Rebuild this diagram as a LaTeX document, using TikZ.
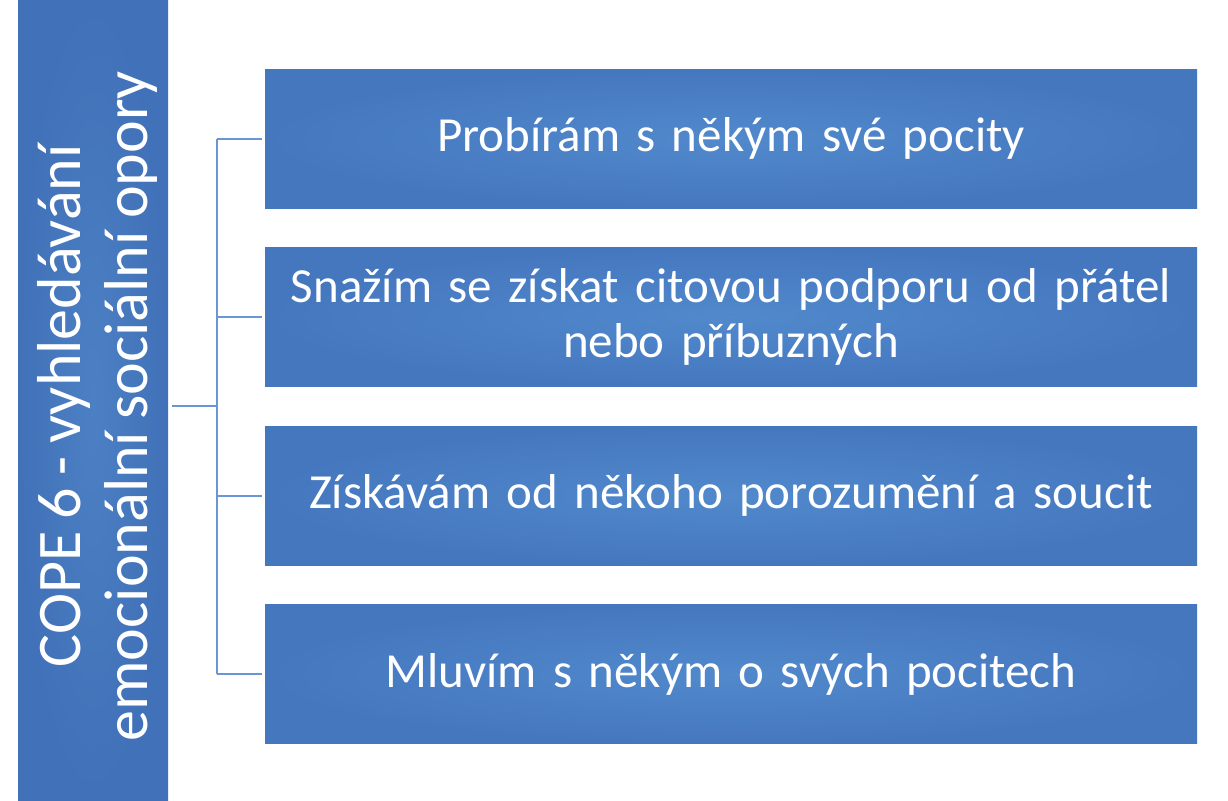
\documentclass[tikz,border=0pt]{standalone}
\usepackage{fontspec}
\setmainfont{Carlito}[WordSpace=0.9]
\definecolor{boxin}{HTML}{5189CC}
\definecolor{boxout}{HTML}{4577BF}
\definecolor{barin}{HTML}{4C80C4}
\definecolor{barout}{HTML}{4171B8}
\definecolor{linkblue}{HTML}{6B96D6}
\begin{document}
\begin{tikzpicture}[x=1pt,y=-1pt,
  itembox/.style={shade, shading=radial, inner color=boxin, outer color=boxout,
    minimum width=932pt, minimum height=139pt, inner sep=0pt, outer sep=0pt,
    text width=920pt, align=center, text=white,
    font=\fontsize{49}{55}\selectfont},
  barbox/.style={shade, shading=radial, inner color=barin, outer color=barout,
    minimum width=150pt, minimum height=800pt, inner sep=0pt, outer sep=0pt},
  bartext/.style={rotate=90, text=white, align=center, inner sep=0pt,
    font=\fontsize{62}{67}\selectfont},
  link/.style={draw=linkblue, line width=2pt}]
\useasboundingbox (0,0) rectangle (1228,800);
\node[barbox] (bar) at (93,400) {};
\node[bartext] (bartxt) at (97,406) {COPE 6 - vyhledávání\hspace{26pt}\\emocionální sociální opory};
\node[itembox] (b1) at (731,138.5) {Probírám s někým své pocity};
\node[itembox] (b2) at (731,317) {Snažím se získat citovou podporu od přátel\\nebo příbuzných};
\node[itembox] (b3) at (731,495.5) {Získávám od někoho porozumění a soucit};
\node[itembox] (b4) at (731,674) {Mluvím s někým o svých pocitech};
\coordinate (trunk) at (217,406);
\coordinate (top) at (217,138.5);
\coordinate (bot) at (217,674);
\draw[link] ([xshift=4pt]bar.east |- trunk) -- (trunk);
\draw[link] (top) -- (bot);
\draw[link] (top) -- ([xshift=-3pt]b1.west);
\draw[link] (217,317) -- ([xshift=-3pt]b2.west);
\draw[link] (217,495.5) -- ([xshift=-3pt]b3.west);
\draw[link] (bot) -- ([xshift=-3pt]b4.west);
\end{tikzpicture}
\end{document}
